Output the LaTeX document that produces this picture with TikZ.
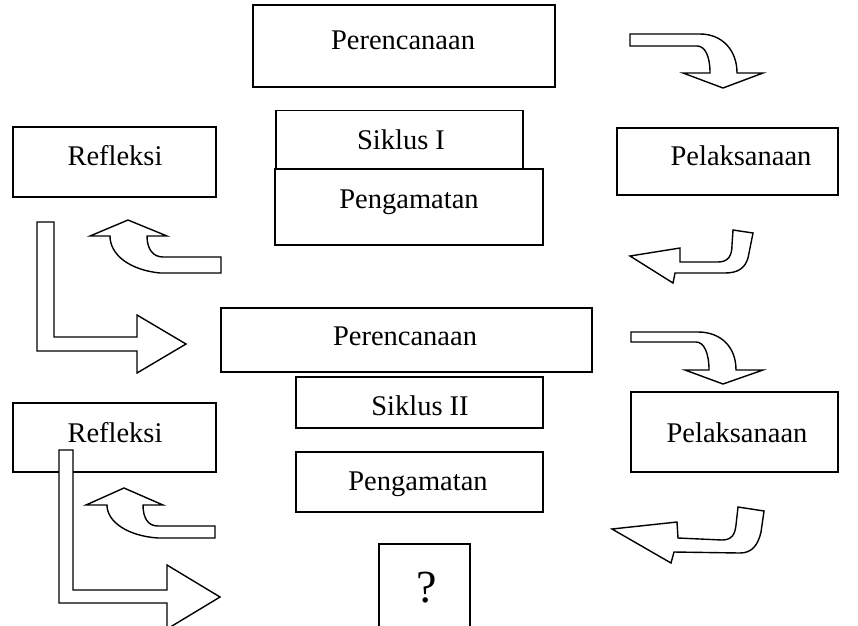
\documentclass[tikz,border=0pt]{standalone}
\usepackage{fontspec}
\setmainfont{Liberation Serif}
\begin{document}
\begin{tikzpicture}[x=1pt,y=-1pt,
  box/.style={draw=black, line width=1.4pt, fill=white, rectangle, inner sep=0pt},
  lbl/.style={anchor=base, inner sep=0pt, font=\fontsize{28.5}{34}\selectfont},
  blockarrow/.style={draw=black, line width=1.4pt, fill=white, line join=miter}]
\useasboundingbox (0,0) rectangle (858,625);
\clip (0,0) rectangle (858,625);
\fill[white] (0,0) rectangle (858,625);

% Cycle I
\node[box, minimum width=302pt, minimum height=82pt] (per1) at (404,46) {};
\node[lbl] (per1t) at (403,49) {Perencanaan};
\node[box, minimum width=247pt, minimum height=58pt] (sik1) at (399.5,139.5) {};
\node[lbl] (sik1t) at (401,149) {Siklus I};
\node[box, minimum width=268pt, minimum height=76pt] (pen1) at (409,207) {};
\node[lbl] (pen1t) at (409,208) {Pengamatan};
\node[box, minimum width=203pt, minimum height=70pt] (ref1) at (114.5,162) {};
\node[lbl] (ref1t) at (115,165) {Refleksi};
\node[box, minimum width=221pt, minimum height=67pt] (pel1) at (727.5,161.5) {};
\node[lbl] (pel1t) at (741,165) {Pelaksanaan};

% Cycle II
\node[box, minimum width=371pt, minimum height=64pt] (per2) at (406.5,340) {};
\node[lbl] (per2t) at (405,345) {Perencanaan};
\node[box, minimum width=247pt, minimum height=51pt] (sik2) at (419.5,402.5) {};
\node[lbl] (sik2t) at (420,415) {Siklus II};
\node[box, minimum width=247pt, minimum height=60pt] (pen2) at (419.5,482) {};
\node[lbl] (pen2t) at (418,490) {Pengamatan};
\node[box, minimum width=203pt, minimum height=69pt] (ref2) at (114.5,437.5) {};
\node[lbl] (ref2t) at (115,442) {Refleksi};
\node[box, minimum width=207pt, minimum height=80pt] (pel2) at (734.5,432) {};
\node[lbl] (pel2t) at (737,442) {Pelaksanaan};

% Question box
\node[box, minimum width=91pt, minimum height=100pt] (q) at (424.5,594) {};
\node[lbl, font=\fontsize{46}{50}\selectfont] (qt) at (427,602) {?};

% Block arrows
% top right, curved down
\draw[blockarrow] (630,34) -- (700,34) .. controls (722,34) and (737,50) .. (737,73)
  -- (763,73) -- (723,88) -- (683,73) -- (710,73)
  .. controls (710,56) and (705,46) .. (697,46) -- (630,46) -- cycle;
% right, curved to left
\draw[blockarrow] (630,256) -- (680,248) -- (680,262) -- (718,262)
  .. controls (728,262) and (732,256) .. (732,245) -- (733,230) -- (753,233)
  -- (748,258) .. controls (745,268) and (738,273) .. (725,273)
  -- (675,273) -- (673,283) -- cycle;
% left, curved up
\draw[blockarrow] (128,220) -- (167,236) -- (147,236)
  .. controls (147,249) and (153,257) .. (163,257) -- (221,257) -- (221,273)
  -- (160,273) .. controls (130,270) and (110,255) .. (110,236) -- (90,236) -- cycle;
% L arrow 1
\draw[blockarrow] (37,222) -- (54,222) -- (54,337) -- (137,337) -- (137,315)
  -- (186,344) -- (137,373) -- (137,351) -- (37,351) -- cycle;

% second cycle arrows
\draw[blockarrow] (631,332) -- (698,332) .. controls (720,332) and (736,346) .. (736,370)
  -- (763,370) -- (723,384) -- (685,370) -- (709,370)
  .. controls (709,353) and (704,342) .. (696,342) -- (631,342) -- cycle;
\draw[blockarrow] (612,529) -- (677,522) -- (678,538) -- (722,540)
  .. controls (732,540) and (735,534) .. (736,525) -- (738,507) -- (764,511)
  -- (761,532) .. controls (758,545) and (752,553) .. (740,553)
  -- (674,552) -- (671,563) -- cycle;
\draw[blockarrow] (124,488) -- (163,505) -- (143,505)
  .. controls (143,518) and (148,526) .. (158,526) -- (215,526) -- (215,538)
  -- (158,538) .. controls (128,536) and (107,522) .. (107,505) -- (86,505) -- cycle;
% L arrow 2
\draw[blockarrow] (59,450) -- (73,450) -- (73,590) -- (167,590) -- (167,565)
  -- (220,597) -- (167,629) -- (167,603) -- (59,603) -- cycle;
\end{tikzpicture}
\end{document}
